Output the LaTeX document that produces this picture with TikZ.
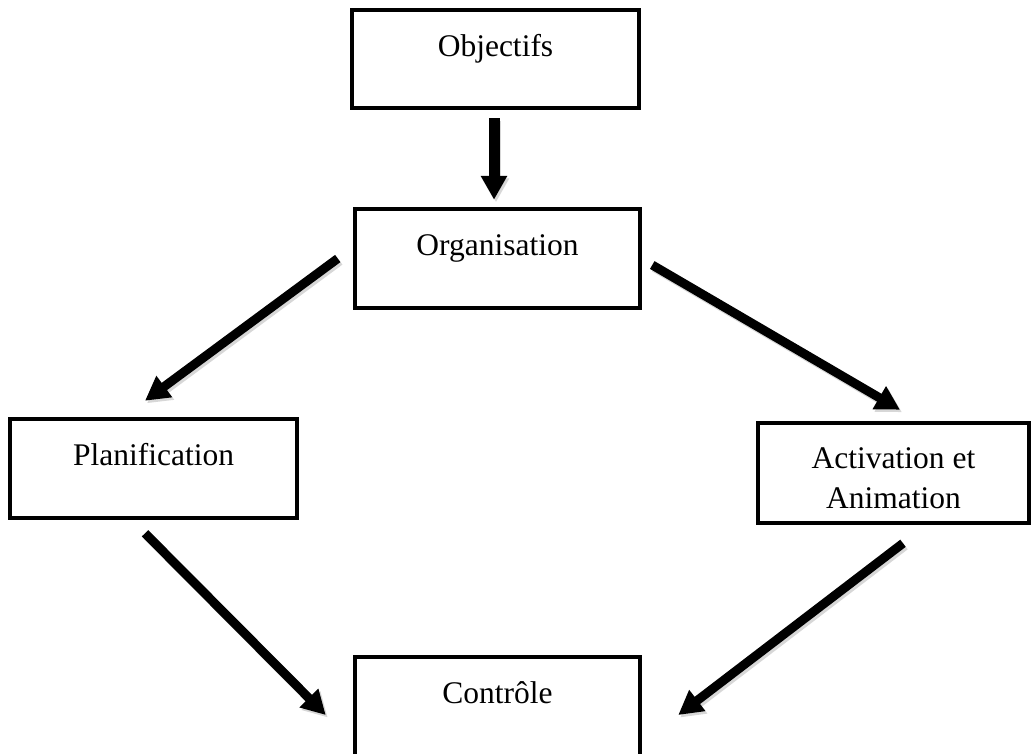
\documentclass[tikz,border=0pt]{standalone}
\usepackage{fontspec}
\setmainfont{Liberation Serif}
\usetikzlibrary{arrows.meta,calc}

\begin{document}
\begin{tikzpicture}[x=1pt,y=-1pt,
  box/.style={draw=black, line width=4.5pt, fill=white, inner sep=0pt,
    font=\fontsize{31.5}{40}\selectfont, align=center,
    text height=22pt, text depth=28pt},
  twoline/.style={text height=70pt, text depth=0pt},
  arr/.style={line width=9pt, -{Triangle[length=24pt,width=25pt]}},
  arrshadow/.style={arr, draw=black!35, opacity=0.45,
    transform canvas={shift={(2pt,-2.5pt)}}}
]
\useasboundingbox (0,0) rectangle (1033,753);

% boxes
\node[box, minimum width=287pt, minimum height=98pt]  (obj)  at (495.5,59)  {Objectifs};
\node[box, minimum width=285pt, minimum height=99pt]  (org)  at (497.5,258.5) {Organisation};
\node[box, minimum width=287pt, minimum height=99pt]  (plan) at (153.5,468.5) {Planification};
\node[box, twoline, minimum width=271pt, minimum height=100pt] (act) at (893.5,473) {Activation et\\Animation};
\node[box, minimum width=285pt, minimum height=99pt]  (ctl)  at (497.5,706.5) {Contrôle};

% arrow end points, placed around the boxes
\coordinate (a1s) at ($(obj.south)+(-1.5,8)$);
\coordinate (a1e) at ($(org.north)+(-3.5,-7)$);
\coordinate (a2s) at ($(org.west)+(-15,0)$);
\coordinate (a2e) at ($(plan.north)+(-8.5,-16)$);
\coordinate (a3s) at ($(org.east)+(10,6.5)$);
\coordinate (a3e) at ($(act.north)+(6.5,-11)$);
\coordinate (a4s) at ($(plan.south)+(-8.5,13)$);
\coordinate (a4e) at ($(ctl.west)+(-27,8.5)$);
\coordinate (a5s) at ($(act.south)+(9.5,18)$);
\coordinate (a5e) at ($(ctl.east)+(36,8.5)$);

% connectors with a soft shadow underneath
\foreach \s/\e in {a1s/a1e, a2s/a2e, a3s/a3e, a4s/a4e, a5s/a5e} {
  \draw[arrshadow] (\s) -- (\e);
}
\draw[arr, line width=11pt] (a1s) -- (a1e);
\foreach \s/\e in {a2s/a2e, a3s/a3e, a4s/a4e, a5s/a5e} {
  \draw[arr] (\s) -- (\e);
}
\end{tikzpicture}
\end{document}
